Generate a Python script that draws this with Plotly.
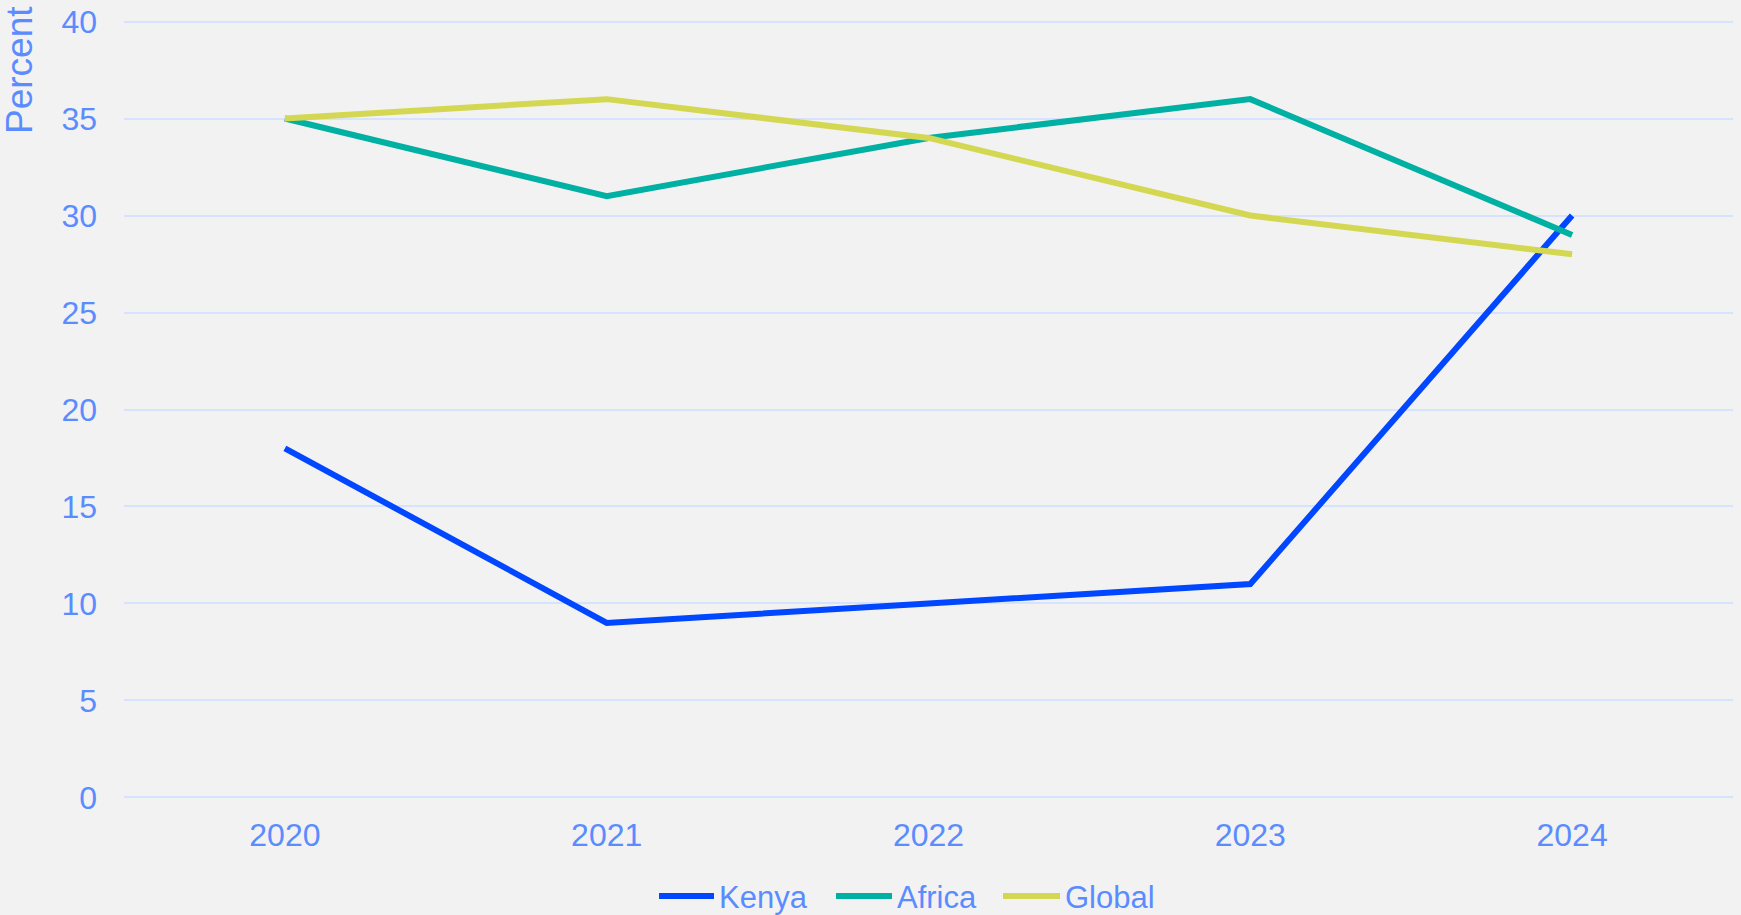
import plotly.graph_objects as go

years = ["2020", "2021", "2022", "2023", "2024"]
kenya = [18, 9, 10, 11, 30]
africa = [35, 31, 34, 36, 29]
global_ = [35, 36, 34, 30, 28]

series_names = ["Kenya", "Africa", "Global"]
series_colors = ["#0047FF", "#00B0A3", "#D4D752"]
series_values = [kenya, africa, global_]

TEXT = "#5B8CFF"
GRID = "#D6E3FF"
BG = "#F2F2F2"
FONT = "Arial, Liberation Sans, sans-serif"

W, H = 1741, 915
ML, MR, MT, MB = 124, 8, 20, 116
PW, PH = W - ML - MR, H - MT - MB


def px_x(px):
    return (px - ML) / PW


def px_y(py):
    return (H - MB - py) / PH


fig = go.Figure()
for name, color, vals in zip(series_names, series_colors, series_values):
    fig.add_trace(go.Scatter(
        x=years, y=vals, name=name, mode="lines",
        line=dict(color=color, width=6), showlegend=False,
    ))

# custom legend (line swatches + labels) to match reference swatch length
legend_line_x = [(659, 714), (836, 892), (1003, 1060)]
legend_y = 896
shapes = []
annotations = []
for (x0, x1), name, color in zip(legend_line_x, series_names, series_colors):
    shapes.append(dict(
        type="line", xref="paper", yref="paper",
        x0=px_x(x0), x1=px_x(x1), y0=px_y(legend_y), y1=px_y(legend_y),
        line=dict(color=color, width=6),
    ))
    annotations.append(dict(
        text=name, xref="paper", yref="paper", x=px_x(x1 + 3), y=px_y(legend_y + 1),
        xanchor="left", yanchor="middle", showarrow=False,
        font=dict(size=31, color=TEXT, family=FONT),
    ))

annotations.append(dict(
    text="Percent", textangle=-90, xref="paper", yref="paper",
    x=px_x(19), y=px_y(4), xanchor="center", yanchor="top", showarrow=False,
    font=dict(size=37, color=TEXT, family=FONT),
))

fig.update_layout(
    width=W, height=H,
    paper_bgcolor=BG, plot_bgcolor=BG,
    margin=dict(l=ML, r=MR, t=MT, b=MB, autoexpand=False),
    font=dict(family=FONT, color=TEXT, size=32),
    showlegend=False,
    xaxis=dict(
        type="category", range=[-0.5, 4.5], showgrid=False, zeroline=False,
        showline=False, ticks="", tickfont=dict(size=32, color=TEXT),
        ticklabelstandoff=14, automargin=False,
    ),
    yaxis=dict(
        range=[-0.08, 40.08], tickvals=[0, 5, 10, 15, 20, 25, 30, 35, 40],
        showgrid=True, gridcolor=GRID, gridwidth=2,
        zeroline=False, showline=False, ticks="",
        tickfont=dict(size=32, color=TEXT), ticklabelstandoff=26,
        automargin=False,
    ),
    shapes=shapes,
    annotations=annotations,
)

fig.write_html(
    "out.html",
    config={"displayModeBar": False},
    post_script="document.body.style.margin='0';document.body.style.overflow='hidden';",
)
